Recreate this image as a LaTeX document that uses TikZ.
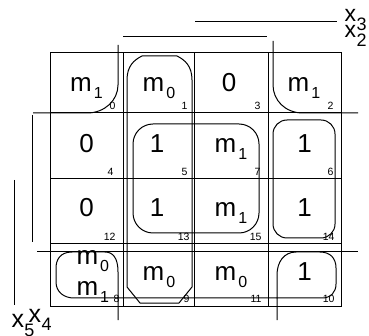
\documentclass[tikz,border=0pt]{standalone}
\usepackage{fontspec}
\setmainfont{Liberation Sans}
\newcommand\ms[2]{#1\kern2pt\raisebox{-7pt}{\fontsize{16}{16}\selectfont #2}}
\newcommand\xs[2]{#1\kern0.5pt\raisebox{-9pt}{\fontsize{18}{18}\selectfont #2}}
\begin{document}
\begin{tikzpicture}[x=1pt,y=-1pt,line width=1pt,
  big/.style={font=\fontsize{26}{30}\selectfont,inner sep=0pt,anchor=base},
  num/.style={font=\fontsize{10.5}{10.5}\selectfont,inner sep=0pt,anchor=south east},
  lbl/.style={font=\fontsize{23}{24}\selectfont,inner sep=0pt,anchor=base west}]
\useasboundingbox (0,0) rectangle (369,336);
% grid
\draw (50,53) rectangle (341,306);
\foreach \x in {123,194,268} \draw (\x,53) -- (\x,306);
\foreach \y in {113,179,244} \draw (50,\y) -- (341,\y);
% cell texts
\node[big] (c0) at (86.5,92) {\ms{m}{1}};
\node[big] (c1) at (159,92) {\ms{m}{0}};
\node[big] (c3) at (229,92) {0};
\node[big] (c2) at (304,92) {\ms{m}{1}};
\node[big] (c4) at (86.5,153) {0};
\node[big] (c5) at (157,153) {1};
\node[big] (c7) at (231,153) {\ms{m}{1}};
\node[big] (c6) at (304.5,153) {1};
\node[big] (c12) at (86.5,217) {0};
\node[big] (c13) at (157,217) {1};
\node[big] (c15) at (231,217) {\ms{m}{1}};
\node[big] (c14) at (304.5,217) {1};
\node[big,anchor=base west] (c8a) at (76,265) {\ms{m}{0}};
\node[big,anchor=base west] (c8b) at (76,295) {\ms{m}{1}};
\node[big] (c9) at (159,280) {\ms{m}{0}};
\node[big] (c11) at (231,280) {\ms{m}{0}};
\node[big] (c10) at (304.5,281) {1};
% cell numbers
\node[num] (n0) at (116,110) {0};
\node[num] (n1) at (188,110) {1};
\node[num] (n3) at (261,110) {3};
\node[num] (n2) at (334,110) {2};
\node[num] (n4) at (114,176) {4};
\node[num] (n5) at (188,176) {5};
\node[num] (n7) at (261,176) {7};
\node[num] (n6) at (334,176) {6};
\node[num] (n12) at (116,241) {12};
\node[num] (n13) at (190,241) {13};
\node[num] (n15) at (262,241) {15};
\node[num] (n14) at (335,241) {14};
\node[num] (n8) at (120,303) {8};
\node[num] (n9) at (190,303) {9};
\node[num] (n11) at (262,303) {11};
\node[num] (n10) at (335,303) {10};
% loops
\draw (127,287) -- (127,80) .. controls (127,66) and (134,60) .. (142,56) -- (177,56) .. controls (185,60) and (192,66) .. (192,80) -- (192,287) -- (179,303) -- (140,303) -- cycle;
\draw[rounded corners=20pt] (133,124) rectangle (259,233);
\draw[rounded corners=14pt] (273,120) rectangle (335,238);
\draw (118,45) -- (118,85) .. controls (118,100) and (105,113) .. (87,113) -- (33,113);
\draw (273,41) -- (273,85) .. controls (273,100) and (285,113) .. (303,113) -- (358,113);
\draw (37,252) -- (358,252);
\draw (118,320) -- (118,272) .. controls (118,258) and (113,252) .. (105,252) -- (72,252) .. controls (60,252) and (56,260) .. (56,268) -- (56,282) .. controls (56,292) and (64,298) .. (74,298) -- (322,298) .. controls (331,298) and (336,292) .. (336,284) -- (336,268) .. controls (336,258) and (330,252) .. (320,252) -- (296,252) .. controls (284,252) and (277,262) .. (277,275) -- (277,320);
% variable brackets
\draw (195,22) -- (337,22);
\draw (123,37) -- (267,37);
\draw (32,115) -- (32,242);
\draw (14,180) -- (14,305);
\node[lbl] (x3) at (344,22) {\xs{x}{3}};
\node[lbl] (x2) at (344,38) {\xs{x}{2}};
\node[lbl,font=\fontsize{25}{25}\selectfont] (x5) at (11,327) {\xs{x}{5}};
\node[lbl,font=\fontsize{25}{25}\selectfont] (x4) at (28,322) {\xs{x}{4}};
\end{tikzpicture}
\end{document}
